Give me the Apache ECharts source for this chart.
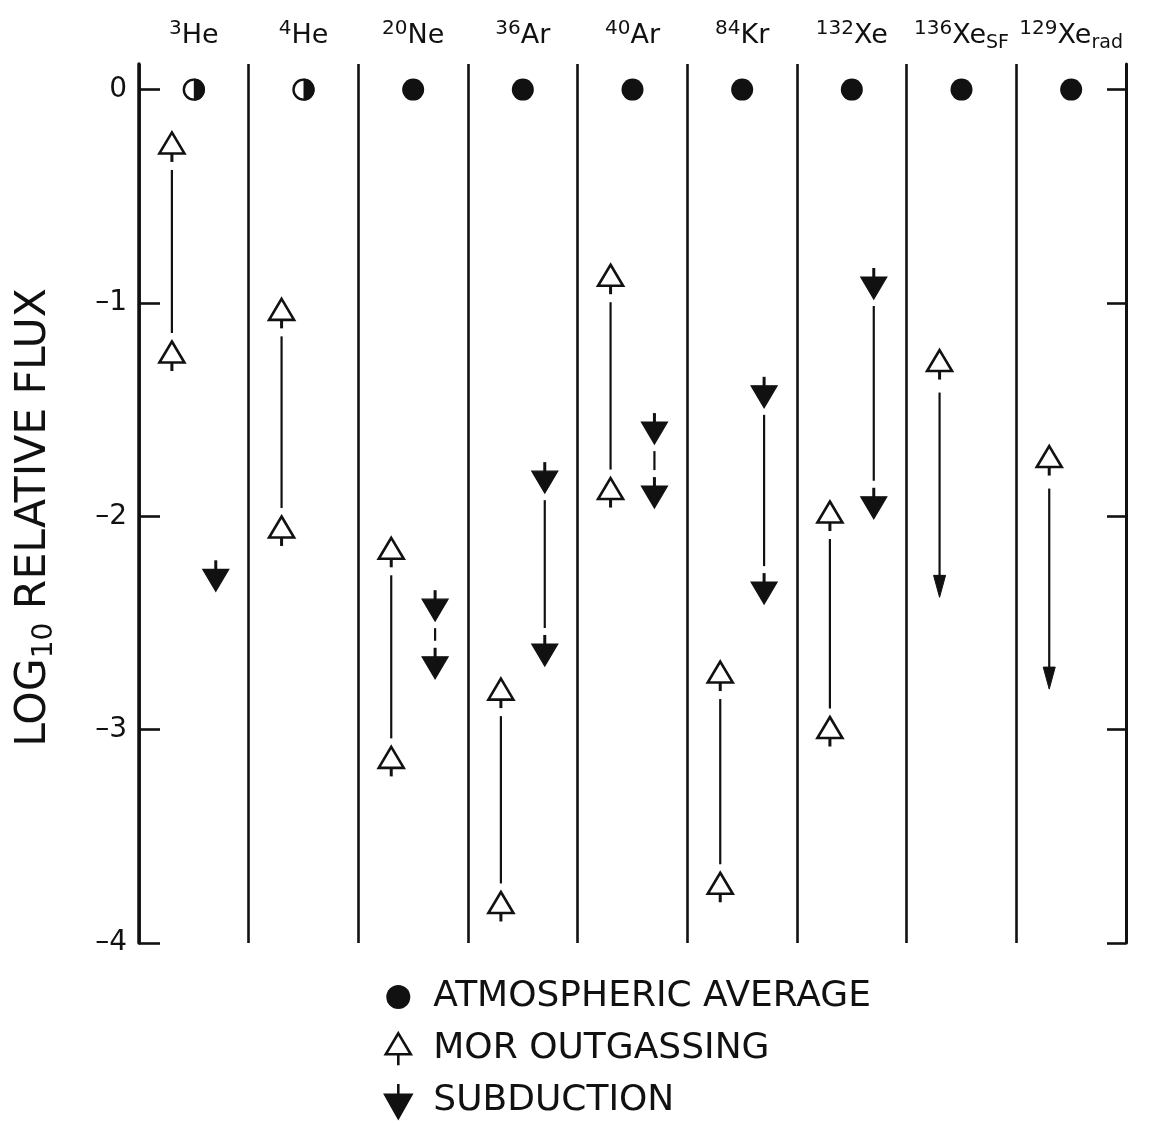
<!DOCTYPE html>
<html>
<head>
<meta charset="utf-8">
<title>Noble gas fluxes</title>
<script src="https://cdn.jsdelivr.net/npm/echarts@6/dist/echarts.min.js"></script>
<style>
  html, body { margin: 0; padding: 0; background: #fff; }
  #chart { width: 1154px; height: 1123px; }
</style>
</head>
<body>
<div id="chart"></div>
<script>
// Isotope columns: mass number, element symbol, trailing subscript
const massNumbers = ['3', '4', '20', '36', '40', '84', '132', '136', '129'];
const elements    = ['He', 'He', 'Ne', 'Ar', 'Ar', 'Kr', 'Xe', 'Xe', 'Xe'];
const subscripts  = ['', '', '', '', '', '', '', 'SF', 'rad'];

// Atmospheric average (log10 relative flux) and marker kind per column
const atmospheric       = [0, 0, 0, 0, 0, 0, 0, 0, 0];
const atmosphericMarker = ['half', 'half', 'full', 'full', 'full', 'full', 'full', 'full', 'full'];

// MOR outgassing: upper and lower estimates, or the lower reach of an open-ended range
const morUpper = [-0.25, -1.03, -2.15, -2.81, -0.87, -2.73, -1.98, -1.27, -1.72];
const morLower = [-1.23, -2.05, -3.13, -3.81, -1.87, -3.72, -2.99, null, null];
const morReach = [null, null, null, null, null, null, null, -2.38, -2.81];

// Subduction: upper and lower estimates
const subUpper = [-2.30, null, -2.44, -1.84, -1.61, -1.44, -0.93, null, null];
const subLower = [null, null, -2.71, -2.65, -1.91, -2.36, -1.96, null, null];

// Y axis ticks
const yTicks = [-4, -3, -2, -1, 0];

const INK = '#111';
const FONT = 'DejaVu Sans';
// horizontal placement inside each column (fraction of a column)
const ATM_POS = 0.5, MOR_POS = 0.3, SUB_POS = 0.7;

const orDash = v => (v === null || v === undefined ? '-' : v);

function openTriangle(x, y) {
  return [
    { type: 'line', shape: { x1: x, y1: y + 10, x2: x, y2: y + 19 }, style: { stroke: INK, lineWidth: 3 } },
    { type: 'polygon', shape: { points: [[x, y - 10.5], [x + 12.5, y + 10.5], [x - 12.5, y + 10.5]] },
      style: { fill: '#fff', stroke: INK, lineWidth: 2.6, lineJoin: 'miter' } }
  ];
}
function solidArrow(x, y) {
  return [
    { type: 'line', shape: { x1: x, y1: y - 20, x2: x, y2: y - 10 }, style: { stroke: INK, lineWidth: 3 } },
    { type: 'polygon', shape: { points: [[x - 13, y - 11], [x + 13, y - 11], [x, y + 11]] },
      style: { fill: INK, stroke: INK, lineWidth: 1.2, lineJoin: 'miter' } }
  ];
}
function vline(x, y1, y2, w) {
  return { type: 'line', shape: { x1: x, y1: y1, x2: x, y2: y2 }, style: { stroke: INK, lineWidth: w || 2.2 } };
}

const atmData = atmospheric.map((v, i) => [i, v]);
const morData = morUpper.map((v, i) => [i, v, orDash(morLower[i]), orDash(morReach[i])]);
const subData = subUpper
  .map((v, i) => [i, orDash(v), orDash(subLower[i])])
  .filter(r => r[1] !== '-');

const chart = echarts.init(document.getElementById('chart'));

const option = {
  backgroundColor: '#fff',
  animation: false,
  grid: { left: 139, right: 28, top: 64, bottom: 180 },
  xAxis: [
    {
      type: 'value', min: 0, max: 9, interval: 1, position: 'bottom',
      axisLine: { show: false, onZero: false }, axisTick: { show: false }, axisLabel: { show: false },
      splitLine: { show: true, lineStyle: { color: INK, width: 2.6 } }
    },
    {
      type: 'category', position: 'top', boundaryGap: true,
      data: massNumbers.map((m, i) => m + elements[i] + subscripts[i]),
      axisLine: { show: false, onZero: false }, axisTick: { show: false }, splitLine: { show: false },
      axisLabel: {
        interval: 0, margin: 11, color: INK, fontFamily: FONT,
        formatter: (value, index) =>
          '{sup|' + massNumbers[index] + '}{el|' + elements[index] + '}' +
          (subscripts[index] ? '{sub|' + subscripts[index] + '}' : ''),
        rich: {
          sup: { fontSize: 20, lineHeight: 20, verticalAlign: 'top', fontFamily: FONT, color: INK },
          el:  { fontSize: 27, lineHeight: 34, verticalAlign: 'middle', fontFamily: FONT, color: INK },
          sub: { fontSize: 19, lineHeight: 19, verticalAlign: 'bottom', fontFamily: FONT, color: INK }
        }
      }
    }
  ],
  yAxis: [
    {
      type: 'value', position: 'left', min: -4, max: 0.12, interval: 1,
      axisLine: { show: true, onZero: false, lineStyle: { color: INK, width: 3.5 } },
      axisTick: { show: true, inside: true, length: 21, customValues: yTicks, lineStyle: { color: INK, width: 2.6 } },
      axisLabel: {
        customValues: yTicks, margin: 12, color: INK, fontFamily: FONT, fontSize: 28,
        formatter: v => (v === 0 ? '0' : '\u2013' + Math.abs(v))
      },
      splitLine: { show: false },
      name: 'LOG{s|10} RELATIVE FLUX',
      nameLocation: 'middle', nameRotate: 90, nameGap: 80,
      nameTextStyle: {
        fontFamily: FONT, fontSize: 42.5, lineHeight: 50, color: INK,
        padding: [0, 28, 0, 0],
        rich: { s: { fontFamily: FONT, fontSize: 28, lineHeight: 28, verticalAlign: 'bottom', color: INK } }
      }
    },
    {
      type: 'value', position: 'right', min: -4, max: 0.12, interval: 1,
      axisLine: { show: true, onZero: false, lineStyle: { color: INK, width: 3 } },
      axisTick: { show: true, inside: true, length: 19, customValues: yTicks, lineStyle: { color: INK, width: 2.6 } },
      axisLabel: { show: false },
      splitLine: { show: false }
    }
  ],
  legend: {
    orient: 'vertical', left: 383, top: 979, padding: 0,
    itemWidth: 28, itemHeight: 36, itemGap: 14,
    selectedMode: false,
    textStyle: { fontFamily: FONT, fontSize: 36, lineHeight: 36, color: INK, padding: [0, 0, 0, 16] },
    data: [
      { name: 'ATMOSPHERIC AVERAGE',
        icon: 'path://M0,0M28,36M26,18A12,12,0,1,1,2,18A12,12,0,1,1,26,18Z',
        itemStyle: { color: INK, borderColor: INK, borderWidth: 0 } },
      { name: 'MOR OUTGASSING',
        icon: 'path://M0,0M28,36M14,24L14,35M14,3L26.5,24L1.5,24Z',
        itemStyle: { color: '#fff', borderColor: INK, borderWidth: 2.6 } },
      { name: 'SUBDUCTION',
        icon: 'path://M0,0M28,36M14,1L14,12M1,12L27,12L14,35Z',
        itemStyle: { color: INK, borderColor: INK, borderWidth: 2.6 } }
    ]
  },
  series: [
    {
      name: 'ATMOSPHERIC AVERAGE', type: 'custom', xAxisIndex: 0, yAxisIndex: 0,
      itemStyle: { color: INK },
      encode: { x: 0, y: 1 },
      data: atmData,
      renderItem: (params, api) => {
        const p = api.coord([api.value(0) + ATM_POS, api.value(1)]);
        const r = 11;
        if (atmosphericMarker[params.dataIndex] === 'half') {
          return { type: 'group', children: [
            { type: 'circle', shape: { cx: p[0], cy: p[1], r: r - 1 }, style: { fill: '#fff', stroke: INK, lineWidth: 2.4 } },
            { type: 'sector', shape: { cx: p[0], cy: p[1], r0: 0, r: r, startAngle: -Math.PI / 2, endAngle: Math.PI / 2, clockwise: true },
              style: { fill: INK } }
          ] };
        }
        return { type: 'circle', shape: { cx: p[0], cy: p[1], r: r }, style: { fill: INK } };
      }
    },
    {
      name: 'MOR OUTGASSING', type: 'custom', xAxisIndex: 0, yAxisIndex: 0,
      itemStyle: { color: '#fff', borderColor: INK },
      encode: { x: 0, y: [1, 2, 3] },
      data: morData,
      renderItem: (params, api) => {
        const x = api.value(0) + MOR_POS;
        const top = api.coord([x, api.value(1)]);
        const lo = api.value(2), reach = api.value(3);
        let children = [];
        if (!isNaN(lo)) {
          const bot = api.coord([x, lo]);
          children.push(vline(top[0], top[1] + 27, bot[1] - 19));
          children = children.concat(openTriangle(bot[0], bot[1]));
        }
        if (!isNaN(reach)) {
          const tip = api.coord([x, reach]);
          children.push(vline(top[0], top[1] + 32, tip[1] - 18));
          children.push({ type: 'polygon', shape: { points: [[tip[0] - 6, tip[1] - 22], [tip[0] + 6, tip[1] - 22], [tip[0], tip[1]]] },
            style: { fill: INK, stroke: INK, lineWidth: 1 } });
        }
        children = children.concat(openTriangle(top[0], top[1]));
        return { type: 'group', children: children };
      }
    },
    {
      name: 'SUBDUCTION', type: 'custom', xAxisIndex: 0, yAxisIndex: 0,
      itemStyle: { color: INK },
      encode: { x: 0, y: [1, 2] },
      data: subData,
      renderItem: (params, api) => {
        const x = api.value(0) + SUB_POS;
        const top = api.coord([x, api.value(1)]);
        const lo = api.value(2);
        let children = solidArrow(top[0], top[1]);
        if (!isNaN(lo)) {
          const bot = api.coord([x, lo]);
          children.push(vline(top[0], top[1] + 18, bot[1] - 27));
          children = children.concat(solidArrow(bot[0], bot[1]));
        }
        return { type: 'group', children: children };
      }
    }
  ]
};

chart.setOption(option);
</script>
</body>
</html>
